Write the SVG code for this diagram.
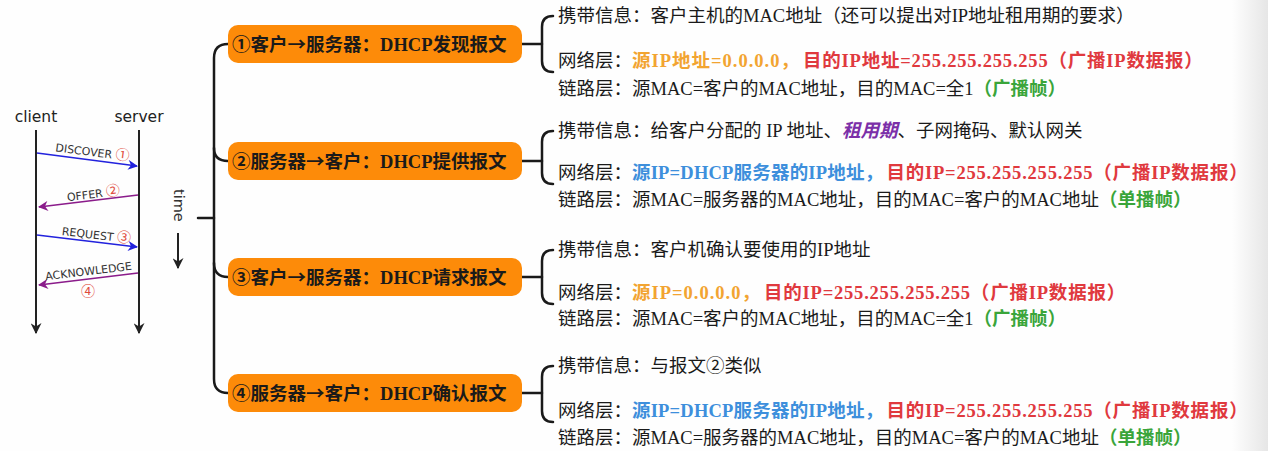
<svg xmlns="http://www.w3.org/2000/svg" width="1268" height="451" viewBox="0 0 1268 451">
<style>
.bg{fill:#fefefe}
.ln{fill:none;stroke:#1a1a1a;stroke-width:2.5;stroke-linecap:round}
.box{fill:#fd8b09}
.bt{font-family:"Liberation Serif","Noto Sans CJK SC",serif;font-size:18.5px;font-weight:bold;fill:#1a1a1a}
.ar{font-family:"Noto Sans CJK SC",sans-serif}
.t{font-family:"Liberation Serif","Noto Sans CJK SC",serif;font-size:18.5px;fill:#1a1a1a}
.or{fill:#f2a431;font-weight:bold;letter-spacing:1px}
.rd{fill:#e0393e;font-weight:bold;letter-spacing:0.8px}
.bl{fill:#3d8fdc;font-weight:bold;letter-spacing:0.2px}
.gr{fill:#3aa53a;font-weight:bold}
.pu{fill:#7b2fa8;font-style:italic;font-weight:bold}
.seq{font-family:"DejaVu Sans",sans-serif;font-size:15.5px;fill:#222}
.lab{font-family:"DejaVu Sans",sans-serif;font-size:11px;fill:#333}
.num{font-family:"Noto Sans CJK SC",sans-serif;font-size:14px;fill:#e04a3a}
.life{fill:none;stroke:#222;stroke-width:2}
.msgB{fill:none;stroke:#2222dd;stroke-width:1.6}
.msgP{fill:none;stroke:#8b1c8b;stroke-width:1.6}
</style>
<defs>
<linearGradient id="shade" x1="0" y1="0" x2="1" y2="0">
<stop offset="0" stop-color="#fefefe"/>
<stop offset="1" stop-color="#e6e6e6"/>
</linearGradient>
<marker id="ak" viewBox="0 0 10 10" refX="9" refY="5" markerWidth="11" markerHeight="11" markerUnits="userSpaceOnUse" orient="auto"><path d="M0,0 L10,5 L0,10 L3,5z" fill="#222"/></marker>
<marker id="aB" viewBox="0 0 10 10" refX="9" refY="5" markerWidth="11" markerHeight="10" markerUnits="userSpaceOnUse" orient="auto"><path d="M0,0 L10,5 L0,10 L3,5z" fill="#2222dd"/></marker>
<marker id="aP" viewBox="0 0 10 10" refX="9" refY="5" markerWidth="11" markerHeight="10" markerUnits="userSpaceOnUse" orient="auto"><path d="M0,0 L10,5 L0,10 L3,5z" fill="#8b1c8b"/></marker>
</defs>
<rect class="bg" x="0" y="0" width="1268" height="451"/>
<rect x="1232" y="0" width="36" height="451" fill="url(#shade)"/>

<g id="sequence">
<text class="seq" x="36" y="122" text-anchor="middle">client</text>
<text class="seq" x="139" y="122" text-anchor="middle">server</text>
<line class="life" x1="36" y1="130" x2="36" y2="333" marker-end="url(#ak)"/>
<line class="life" x1="139" y1="130" x2="139" y2="333" marker-end="url(#ak)"/>
<line class="msgB" x1="37" y1="153" x2="137" y2="166" marker-end="url(#aB)"/>
<line class="msgP" x1="138" y1="195" x2="39" y2="207" marker-end="url(#aP)"/>
<line class="msgB" x1="37" y1="235" x2="137" y2="247" marker-end="url(#aB)"/>
<line class="msgP" x1="138" y1="273" x2="39" y2="285" marker-end="url(#aP)"/>
<text class="lab" transform="translate(92,156) rotate(7.3)" text-anchor="middle">DISCOVER <tspan class="num">①</tspan></text>
<text class="lab" transform="translate(94,198) rotate(-6.9)" text-anchor="middle">OFFER <tspan class="num">②</tspan></text>
<text class="lab" transform="translate(96,239) rotate(6.8)" text-anchor="middle">REQUEST <tspan class="num">③</tspan></text>
<text class="lab" transform="translate(89,275) rotate(-6.9)" text-anchor="middle">ACKNOWLEDGE</text>
<text class="num" x="88" y="296" text-anchor="middle">④</text>
</g>

<g id="time">
<text class="lab" style="font-size:14.5px" transform="translate(174,189) rotate(90)">time</text>
<line class="life" x1="178" y1="233" x2="178" y2="268" marker-end="url(#ak)"/>
</g>

<g id="connectors">
<path class="ln" d="M198,218 L214,218"/>
<path class="ln" d="M228,44 Q214,44 214,58 L214,379 Q214,393 228,393"/>
<path class="ln" d="M214,148 Q214,161 228,161"/>
<path class="ln" d="M214,263 Q214,277 228,277"/>
<path class="ln" d="M522,44 L542,44"/>
<path class="ln" d="M522,161 L542,161"/>
<path class="ln" d="M522,277 L542,277"/>
<path class="ln" d="M522,393 L542,393"/>
<path class="ln" d="M553,16 Q542,16 542,27 L542,61 Q542,72 553,72"/>
<path class="ln" d="M553,131 Q542,131 542,142 L542,173 Q542,184 553,184"/>
<path class="ln" d="M553,250 Q542,250 542,261 L542,293 Q542,304 553,304"/>
<path class="ln" d="M553,366 Q542,366 542,377 L542,411 Q542,422 553,422"/>
</g>

<g id="node1">
<rect class="box" x="228" y="25" width="294" height="38" rx="10"/>
<text class="bt" x="232" y="51">①客户<tspan class="ar">→</tspan>服务器：DHCP发现报文</text>
<text class="t" x="558" y="22">携带信息：客户主机的MAC地址（还可以提出对IP地址租用期的要求）</text>
<text class="t" x="558" y="67">网络层：<tspan class="or">源IP地址=0.0.0.0，</tspan><tspan class="rd" dx="3">目的IP地址=255.255.255.255（广播IP数据报）</tspan></text>
<text class="t" x="558" y="95">链路层：源MAC=客户的MAC地址，目的MAC=全1<tspan class="gr">（广播帧）</tspan></text>
</g>

<g id="node2">
<rect class="box" x="228" y="142" width="294" height="38" rx="10"/>
<text class="bt" x="232" y="168">②服务器<tspan class="ar">→</tspan>客户：DHCP提供报文</text>
<text class="t" x="558" y="137">携带信息：给客户分配的 IP 地址、<tspan class="pu">租用期</tspan>、子网掩码、默认网关</text>
<text class="t" x="558" y="179">网络层：<tspan class="bl">源IP=DHCP服务器的IP地址，</tspan><tspan class="rd" dx="3">目的IP=255.255.255.255（广播IP数据报）</tspan></text>
<text class="t" x="558" y="206">链路层：源MAC=服务器的MAC地址，目的MAC=客户的MAC地址<tspan class="gr">（单播帧）</tspan></text>
</g>

<g id="node3">
<rect class="box" x="228" y="258" width="294" height="38" rx="10"/>
<text class="bt" x="232" y="284">③客户<tspan class="ar">→</tspan>服务器：DHCP请求报文</text>
<text class="t" x="558" y="256">携带信息：客户机确认要使用的IP地址</text>
<text class="t" x="558" y="299">网络层：<tspan class="or">源IP=0.0.0.0，</tspan><tspan class="rd" dx="3">目的IP=255.255.255.255（广播IP数据报）</tspan></text>
<text class="t" x="558" y="325">链路层：源MAC=客户的MAC地址，目的MAC=全1<tspan class="gr">（广播帧）</tspan></text>
</g>

<g id="node4">
<rect class="box" x="228" y="374" width="294" height="38" rx="10"/>
<text class="bt" x="232" y="400">④服务器<tspan class="ar">→</tspan>客户：DHCP确认报文</text>
<text class="t" x="558" y="372">携带信息：与报文②类似</text>
<text class="t" x="558" y="417">网络层：<tspan class="bl">源IP=DHCP服务器的IP地址，</tspan><tspan class="rd" dx="3">目的IP=255.255.255.255（广播IP数据报）</tspan></text>
<text class="t" x="558" y="444">链路层：源MAC=服务器的MAC地址，目的MAC=客户的MAC地址<tspan class="gr">（单播帧）</tspan></text>
</g>
</svg>
